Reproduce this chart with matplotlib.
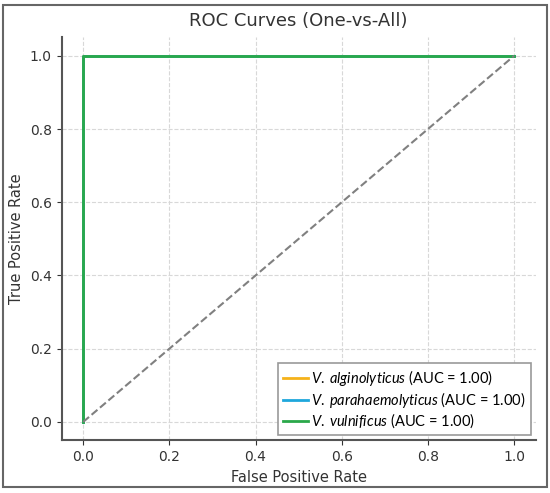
import matplotlib.pyplot as plt
from matplotlib.patches import Rectangle

plt.rcParams["mathtext.fontset"] = "custom"
plt.rcParams["mathtext.rm"] = "Lato"
plt.rcParams["mathtext.it"] = "Lato:italic"

# ROC data (one-vs-all)
classes = ["V. alginolyticus", "V. parahaemolyticus", "V. vulnificus"]
fpr = [[0.0, 0.0, 1.0], [0.0, 0.0, 1.0], [0.0, 0.0, 1.0]]
tpr = [[0.0, 1.0, 1.0], [0.0, 1.0, 1.0], [0.0, 1.0, 1.0]]
aucs = [1.00, 1.00, 1.00]
colors = ["#f5b21a", "#1ea7dc", "#2aa84a"]
chance = [0.0, 1.0]
ticks = [0.0, 0.2, 0.4, 0.6, 0.8, 1.0]

fig = plt.figure(figsize=(5.5, 4.93), dpi=100)
ax = fig.add_axes([0.112, 0.107, 0.862, 0.817])

for name, x, y, a, c in zip(classes, fpr, tpr, aucs, colors):
    label = "$\\it{" + name.replace(" ", "\\;") + "}$" + f" (AUC = {a:.2f})"
    ax.plot(x, y, color=c, lw=2, label=label)
ax.plot(chance, chance, linestyle="--", color="gray", lw=1.5)

ax.set_xlim(-0.05, 1.05)
ax.set_ylim(-0.05, 1.05)
ax.set_xticks(ticks)
ax.set_yticks(ticks)
ax.grid(True, linestyle="--", color="#d8d8d8", lw=0.8)
for s in ["top", "right"]:
    ax.spines[s].set_visible(False)
for s in ["left", "bottom"]:
    ax.spines[s].set_color("#555555")
    ax.spines[s].set_linewidth(1.5)
ax.tick_params(colors="#333333", labelsize=10)
ax.set_xlabel("False Positive Rate", fontsize=10.5, color="#333333")
ax.set_ylabel("True Positive Rate", fontsize=10.5, color="#333333")
ax.set_title("ROC Curves (One-vs-All)", fontsize=13, color="#333333", pad=8)

leg = ax.legend(loc="lower right", fancybox=False, edgecolor="#999999", framealpha=1,
                prop={"family": "Lato", "size": 10.5}, handlelength=1.7, handletextpad=0.2,
                borderpad=0.35, labelspacing=0.12, borderaxespad=0.35,
                bbox_to_anchor=(1.0, 0.0))
leg.get_frame().set_linewidth(1.2)

fig.patches.append(Rectangle((0.006, 0.012), 0.988, 0.978, transform=fig.transFigure,
                             fill=False, edgecolor="#666666", lw=1.5))

plt.savefig("out.png")
